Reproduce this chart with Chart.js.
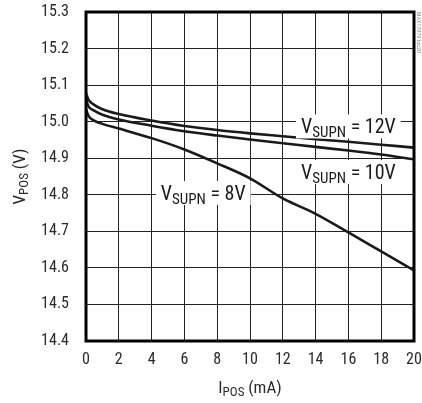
<!DOCTYPE html>
<html>
<head>
<meta charset="utf-8">
<script src="https://cdn.jsdelivr.net/npm/chart.js@4.4.1/dist/chart.umd.min.js"></script>
<style>
  html, body { margin: 0; padding: 0; background: #fff; }
  #wrap { width: 422px; height: 403px; }
</style>
</head>
<body>
<div id="wrap"><canvas id="myChart" width="422" height="403"></canvas></div>
<script>
const FONT = '"Roboto Condensed", "Liberation Sans", sans-serif';

// I_POS (mA)
const ipos = [0, 0.15, 0.5, 1, 2, 4, 6, 8, 10, 12, 14, 16, 18, 20];
// V_POS (V) per V_SUPN
const vpos12 = [15.078, 15.060, 15.046, 15.034, 15.021, 15.003, 14.988, 14.977, 14.968, 14.960, 14.952, 14.945, 14.937, 14.929];
const vpos10 = [15.060, 15.042, 15.030, 15.019, 15.006, 14.989, 14.974, 14.962, 14.951, 14.941, 14.931, 14.921, 14.910, 14.897];
const vpos8  = [15.034, 15.016, 15.003, 14.994, 14.981, 14.955, 14.924, 14.886, 14.845, 14.790, 14.748, 14.697, 14.645, 14.593];

const xTicks = [0, 2, 4, 6, 8, 10, 12, 14, 16, 18, 20];
const yTicks = [14.4, 14.5, 14.6, 14.7, 14.8, 14.9, 15.0, 15.1, 15.2, 15.3];

// curve labels: [main, subscript, rest, x, y]
const curveLabels = [
  ['V', 'SUPN', ' = 12V', 16, 14.987],
  ['V', 'SUPN', ' = 10V', 16, 14.862],
  ['V', 'SUPN', ' = 8V', 7.15, 14.805]
];

function pts(ys) {
  return ipos.map((x, i) => ({ x: x, y: ys[i] }));
}

function line(label, ys) {
  return {
    label: label,
    data: pts(ys),
    borderColor: '#1a1a1a',
    borderWidth: 2.6,
    pointRadius: 0,
    cubicInterpolationMode: 'monotone',
    fill: false
  };
}

// width of text with a subscript part
function subWidth(c, main, sub, rest, big, small) {
  c.font = big + 'px ' + FONT;
  let w = c.measureText(main).width + c.measureText(rest).width;
  c.font = small + 'px ' + FONT;
  return w + c.measureText(sub).width;
}

function drawSub(c, main, sub, rest, x, y, big, small) {
  c.textBaseline = 'alphabetic';
  c.textAlign = 'left';
  c.font = big + 'px ' + FONT;
  c.fillText(main, x, y);
  x += c.measureText(main).width;
  c.font = small + 'px ' + FONT;
  c.fillText(sub, x, y + big * 0.2);
  x += c.measureText(sub).width;
  c.font = big + 'px ' + FONT;
  c.fillText(rest, x, y);
}

const extras = {
  id: 'extras',
  afterDatasetsDraw(chart) {
    const c = chart.ctx;
    const xs = chart.scales.x, ys = chart.scales.y;
    const a = chart.chartArea;
    c.save();
    // curve labels on white boxes
    curveLabels.forEach(l => {
      const cx = xs.getPixelForValue(l[3]);
      const cy = ys.getPixelForValue(l[4]);
      const w = subWidth(c, l[0], l[1], l[2], 20, 15);
      c.fillStyle = '#fff';
      c.fillRect(cx - w / 2 - 5, cy - 12, w + 10, 24);
      c.fillStyle = '#1a1a1a';
      drawSub(c, l[0], l[1], l[2], cx - w / 2, cy + 7, 20, 15);
    });
    // plot frame
    c.strokeStyle = '#000';
    c.lineWidth = 3;
    c.strokeRect(a.left, a.top, a.right - a.left, a.bottom - a.top);

    // axis titles
    c.fillStyle = '#2a2a2a';
    let w = subWidth(c, 'I', 'POS', ' (mA)', 17, 13);
    drawSub(c, 'I', 'POS', ' (mA)', (a.left + a.right) / 2 - w / 2, 393, 17, 13);

    c.translate(25, (a.top + a.bottom) / 2);
    c.rotate(-Math.PI / 2);
    w = subWidth(c, 'V', 'POS', ' (V)', 17, 13);
    drawSub(c, 'V', 'POS', ' (V)', -w / 2, 0, 17, 13);
    c.restore();

    // tiny side note
    c.save();
    c.translate(418, 12);
    c.rotate(Math.PI / 2);
    c.fillStyle = '#888';
    c.font = '6px ' + FONT;
    c.textBaseline = 'middle';
    c.fillText('MAX17079 toc20', 0, 0);
    c.restore();
  }
};

const ctx = document.getElementById('myChart');
const myChart = new Chart(ctx, {
  type: 'line',
  data: {
    datasets: [
      line('VSUPN = 12V', vpos12),
      line('VSUPN = 10V', vpos10),
      line('VSUPN = 8V', vpos8)
    ]
  },
  options: {
    responsive: false,
    animation: false,
    layout: { padding: { left: 0, right: 8, top: 12, bottom: 0 } },
    plugins: { legend: { display: false }, tooltip: { enabled: false } },
    scales: {
      x: {
        type: 'linear',
        min: 0, max: 20,
        afterBuildTicks: s => { s.ticks = xTicks.map(v => ({ value: v })); },
        afterFit: s => { s.height = 62; s.paddingLeft = 0; s.paddingRight = 0; },
        grid: { color: '#222', lineWidth: 1, drawTicks: false },
        border: { display: false },
        ticks: { color: '#2a2a2a', padding: 9, font: { family: FONT, size: 16 }, maxRotation: 0 }
      },
      y: {
        type: 'linear',
        min: 14.4, max: 15.3,
        afterBuildTicks: s => { s.ticks = yTicks.map(v => ({ value: v })); },
        afterFit: s => { s.width = 86; s.paddingTop = 0; s.paddingBottom = 0; },
        grid: { color: '#222', lineWidth: 1, drawTicks: false },
        border: { display: false },
        ticks: { color: '#2a2a2a', padding: 17, font: { family: FONT, size: 16 },
                 callback: v => v.toFixed(1) }
      }
    }
  },
  plugins: [extras]
});
</script>
</body>
</html>
